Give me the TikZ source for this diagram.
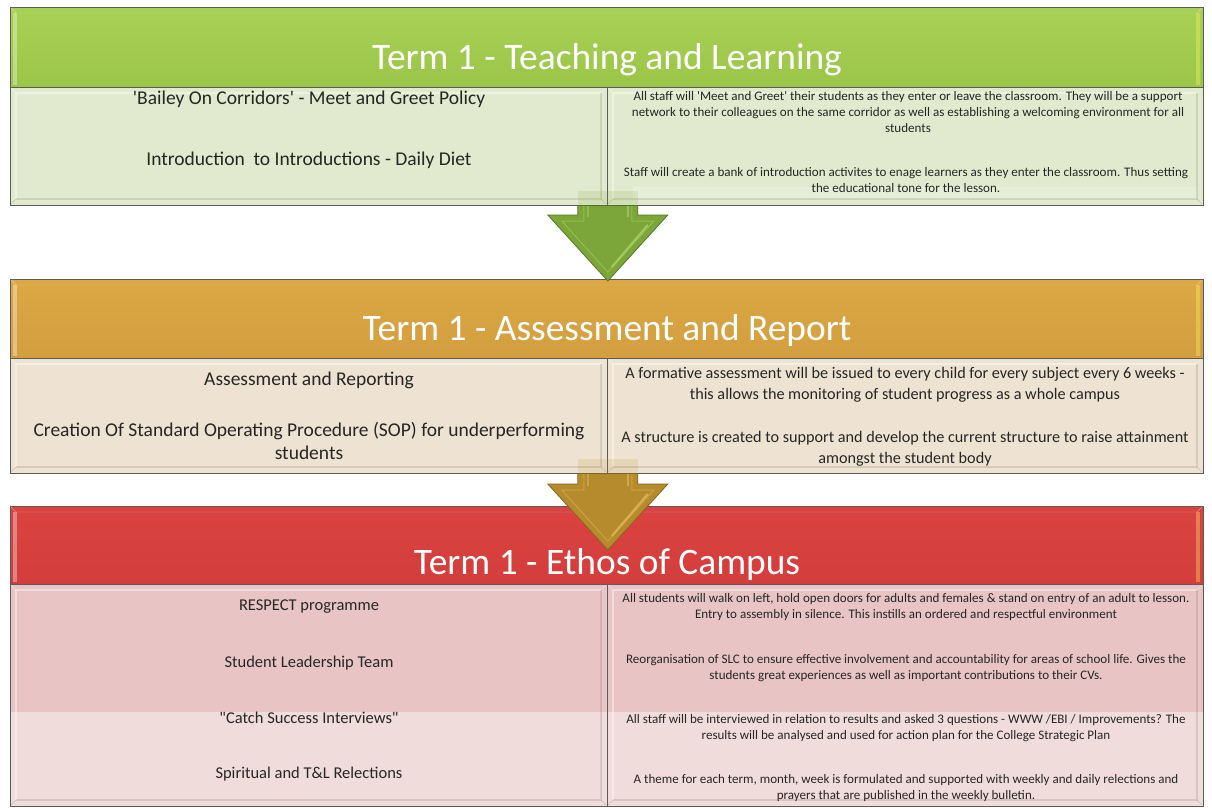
\documentclass[tikz,border=0pt]{standalone}
\usepackage{fontspec}
\setmainfont{Carlito}[Ligatures=TeXOff]
\usetikzlibrary{calc}
\definecolor{gHead}{HTML}{9BC64A}
\definecolor{gHeadTop}{HTML}{A8D054}
\definecolor{gBody}{HTML}{E1EACE}
\definecolor{oHead}{HTML}{D29E3F}
\definecolor{oHeadTop}{HTML}{DCA845}
\definecolor{oBody}{HTML}{EEE3D2}
\definecolor{rHead}{HTML}{D33D3B}
\definecolor{rHeadTop}{HTML}{DA4340}
\definecolor{rBody}{HTML}{E8C5C4}
\definecolor{rBodyLow}{HTML}{F0DCDB}
\definecolor{gArrow}{HTML}{7CA53A}
\definecolor{gArrowDark}{HTML}{55772A}
\definecolor{gArrowLight}{HTML}{A9D060}
\definecolor{oArrow}{HTML}{B58B2D}
\definecolor{oArrowDark}{HTML}{85661E}
\definecolor{oArrowLight}{HTML}{DDB757}
\definecolor{edge}{HTML}{5B5B5B}
\definecolor{txt}{HTML}{262626}
\tikzset{
  hdr/.style={rectangle, draw=edge, line width=0.8pt, inner sep=0pt, anchor=north west, minimum width=1193pt},
  bodybox/.style={rectangle, draw=edge, line width=0.8pt, inner sep=0pt, anchor=north west},
  htext/.style={text=white, anchor=base, inner sep=0pt, font=\fontsize{37.4}{44}\selectfont},
  ltextA/.style={text=txt, align=center, inner sep=0pt, font=\fontsize{19.5}{23}\selectfont},
  rtextA/.style={text=txt, align=center, inner sep=0pt, font=\fontsize{13.05}{16}\selectfont},
  ltextB/.style={text=txt, align=center, inner sep=0pt, font=\fontsize{19.5}{23}\selectfont},
  rtextB/.style={text=txt, align=center, inner sep=0pt, font=\fontsize{16.2}{21}\selectfont},
  ltextC/.style={text=txt, align=center, inner sep=0pt, font=\fontsize{16.5}{19}\selectfont},
  rtextC/.style={text=txt, align=center, inner sep=0pt, font=\fontsize{13.05}{16}\selectfont},
  hilite/.style={white, opacity=0.4, line width=1.2pt},
  shadeline/.style={black, opacity=0.1, line width=1.2pt},
}
% bevel of a box given by its corners (x1,y1) top-left and (x2,y2) bottom-right
\newcommand{\bevelbox}[4]{%
  \draw[hilite] (#1+6,#4-6) -- (#1+6,#2+6) -- (#3-6,#2+6);
  \draw[shadeline] (#3-6,#2+6) -- (#3-6,#4-6) -- (#1+6,#4-6);
  \draw[white, opacity=0.45] (#1+1,#2+1) -- (#1+6,#2+6);
  \draw[white, opacity=0.3] (#3-1,#2+1) -- (#3-6,#2+6);
  \draw[black, opacity=0.15] (#1+1,#4-1) -- (#1+6,#4-6);
  \draw[black, opacity=0.15] (#3-1,#4-1) -- (#3-6,#4-6);
}
\newcommand{\hdrbevel}[4]{%
  \fill[white, opacity=0.35] (#1+3,#2+6) rectangle (#1+7,#4-2);
  \fill[yellow!60!white, opacity=0.35] (#3-7,#2+6) rectangle (#3-3,#4-2);
  \draw[white, opacity=0.4] (#1+1,#2+1) -- (#1+6,#2+6) -- (#3-6,#2+6) -- (#3-1,#2+1);
}
% down arrow: #1 stem top, #2 tip (same x)
\newcommand{\termarrow}[5]{%
  \fill[#3, opacity=0.15] ($(#1)+(-30,-15)$) rectangle ($(#1)+(30,0)$);
  \filldraw[fill=#3, draw=#4, line width=0.8pt, line join=miter]
    ($(#1)+(-30,0)$) -- ($(#2)+(-30,-66)$) -- ($(#2)+(-60,-66)$) -- (#2)
    -- ($(#2)+(60,-66)$) -- ($(#2)+(30,-66)$) -- ($(#1)+(30,0)$) -- cycle;
  \draw[#5, opacity=0.55, line width=1pt]
    ($(#1)+(-24,0)$) -- ($(#2)+(-24,-60)$) -- ($(#2)+(-46,-60)$) -- ($(#2)+(0,-9)$)
    -- ($(#2)+(46,-60)$) -- ($(#2)+(24,-60)$) -- ($(#1)+(24,0)$);
  \draw[#5, line width=2.2pt, opacity=0.8] ($(#2)+(40,-56)$) -- ($(#2)+(4,-14)$);
  \draw[#5, line width=2pt, opacity=0.7] ($(#1)+(20,0)$) -- ($(#2)+(20,-64)$);
  \draw[#5, line width=2pt, opacity=0.5] ($(#1)+(-20,0)$) -- ($(#2)+(-20,-64)$);
}
\begin{document}
\begin{tikzpicture}[x=1pt, y=-1pt]
\useasboundingbox[fill=white] (0,0) rectangle (1212,807);

% ---------- Section 1 ----------
\node[hdr, top color=gHeadTop, bottom color=gHead, minimum height=80pt] (h1) at (10,7) {};
\hdrbevel{10}{7}{1203}{87}
\node[bodybox, fill=gBody, minimum width=597pt, minimum height=118pt] (b1l) at (10,87) {};
\node[bodybox, fill=gBody, minimum width=596pt, minimum height=118pt] (b1r) at (607,87) {};
\fill[white, opacity=0.22] (633,187) rectangle (1197,199);
\bevelbox{10}{87}{607}{205}
\bevelbox{607}{87}{1203}{205}
\node[htext] (t1) at (607,69) {Term 1 - Teaching and Learning};
\node[ltextA] (l1a) at (309,99) {'Bailey On Corridors' - Meet and Greet Policy};
\node[ltextA] (l1b) at (309,160) {Introduction\ \ to Introductions - Daily Diet};
\node[rtextA] (r1a) at (908,112) {All staff will 'Meet and Greet' their students as they enter or leave the classroom. They will be a support\\network to their colleagues on the same corridor as well as establishing a welcoming environment for all\\students};
\node[rtextA] (r1b) at (906,180) {Staff will create a bank of introduction activites to enage learners as they enter the classroom. Thus setting\\the educational tone for the lesson.};

% ---------- Section 2 ----------
\node[hdr, top color=oHeadTop, bottom color=oHead, minimum height=79pt] (h2) at (10,279) {};
\hdrbevel{10}{279}{1203}{358}
\node[bodybox, fill=oBody, minimum width=597pt, minimum height=115pt] (b2l) at (10,358) {};
\node[bodybox, fill=oBody, minimum width=596pt, minimum height=115pt] (b2r) at (607,358) {};
\bevelbox{10}{358}{607}{473}
\bevelbox{607}{358}{1203}{473}
\node[htext] (t2) at (607,340) {Term 1 - Assessment and Report};
\node[ltextB] (l2a) at (309,380) {Assessment and Reporting};
\node[ltextB] (l2b) at (309,441) {Creation Of Standard Operating Procedure (SOP) for underperforming\\students};
\node[rtextB] (r2a) at (905,385) {A formative assessment will be issued to every child for every subject every 6 weeks -\\this allows the monitoring of student progress as a whole campus};
\node[rtextB] (r2b) at (905,449) {A structure is created to support and develop the current structure to raise attainment\\amongst the student body};

% arrow 1 (green)
\coordinate (a1top) at (b1l.south east);
\coordinate (a1tip) at ($(h2.north -| a1top)+(0,2)$);
\termarrow{a1top}{a1tip}{gArrow}{gArrowDark}{gArrowLight}

% ---------- Section 3 ----------
\node[hdr, top color=rHeadTop, bottom color=rHead, minimum height=78pt] (h3) at (10,506) {};
\hdrbevel{10}{506}{1203}{584}
\node[bodybox, fill=rBodyLow, minimum width=597pt, minimum height=222pt] (b3l) at (10,584) {};
\node[bodybox, fill=rBodyLow, minimum width=596pt, minimum height=222pt] (b3r) at (607,584) {};
\fill[rBody] (10.4,584.4) rectangle (1202.6,712);
\draw[edge, line width=0.8pt] (b3l.north west) rectangle (b3l.south east);
\draw[edge, line width=0.8pt] (b3r.north west) rectangle (b3r.south east);
\bevelbox{10}{584}{607}{806}
\bevelbox{607}{584}{1203}{806}
\node[htext] (t3) at (607,574) {Term 1 - Ethos of Campus};
\node[ltextC] (l3a) at (309,607) {RESPECT programme};
\node[ltextC] (l3b) at (309,663) {Student Leadership Team};
\node[ltextC] (l3c) at (309,718) {"Catch Success Interviews"};
\node[ltextC] (l3d) at (309,774) {Spiritual and T\&L Relections};
\node[rtextC] (r3a) at (906,607) {All students will walk on left, hold open doors for adults and females \& stand on entry of an adult to lesson.\\Entry to assembly in silence. This instills an ordered and respectful environment};
\node[rtextC] (r3b) at (906,668) {Reorganisation of SLC to ensure effective involvement and accountability for areas of school life. Gives the\\students great experiences as well as important contributions to their CVs.};
\node[rtextC] (r3c) at (906,728) {All staff will be interviewed in relation to results and asked 3 questions - WWW /EBI / Improvements? The\\results will be analysed and used for action plan for the College Strategic Plan};
\node[rtextC] (r3d) at (906,788) {A theme for each term, month, week is formulated and supported with weekly and daily relections and\\prayers that are published in the weekly bulletin.};

% arrow 2 (gold)
\coordinate (a2top) at (b2l.south east);
\coordinate (a2tip) at ($(h3.north -| a2top)+(0,44)$);
\termarrow{a2top}{a2tip}{oArrow}{oArrowDark}{oArrowLight}
\end{tikzpicture}
\end{document}
